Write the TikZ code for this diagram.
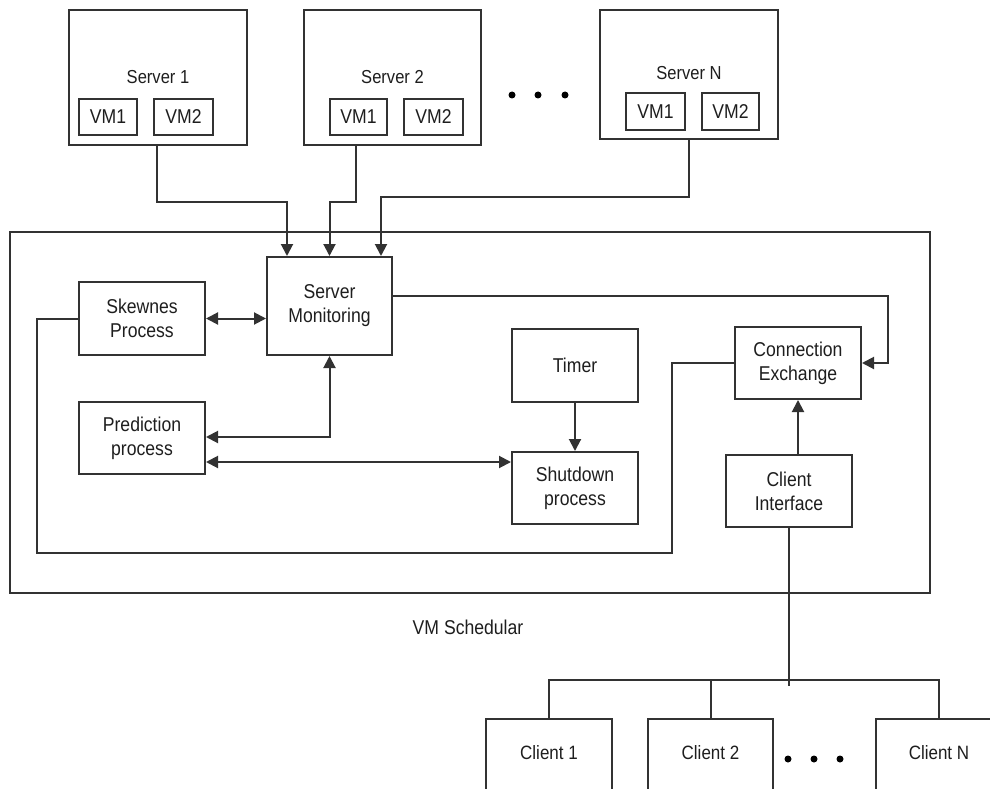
\documentclass[tikz,border=0pt]{standalone}
\usepackage{fontspec}
\setmainfont{Liberation Sans}[FakeStretch=0.88]
\usetikzlibrary{arrows.meta}
\definecolor{ln}{RGB}{50,50,50}
\definecolor{tx}{RGB}{30,30,30}
\newcommand{\bigtxt}{\fontsize{20}{24}\selectfont}
\newcommand{\srvtxt}{\fontsize{18.8}{24}\selectfont}
\newcommand{\clitxt}{\fontsize{19.3}{24}\selectfont}
\tikzset{
  box/.style={draw=ln, line width=2pt, inner sep=0pt, text=tx, align=center, font=\bigtxt},
  vmbox/.style={box, minimum height=36pt},
  proc/.style={box, minimum width=126pt, minimum height=72pt},
  conn/.style={draw=ln, line width=2pt},
  arr/.style={conn, -{Triangle[length=12pt,width=12pt]}},
  darr/.style={conn, {Triangle[length=12pt,width=12pt]}-{Triangle[length=12pt,width=12pt]}},
  dot/.style={fill=black, circle, inner sep=0pt, minimum size=7pt},
  lbl/.style={text=tx, font=\srvtxt, inner sep=0pt}
}
\begin{document}
\begin{tikzpicture}[x=1pt,y=-1pt]
\useasboundingbox (0,0) rectangle (990,789);
\clip (0,0) rectangle (990,789);
\fill[white] (0,0) rectangle (990,789);

% servers
\node[box, minimum width=178pt, minimum height=135pt,
      label={[lbl, anchor=base, yshift=-75pt]north:Server 1}] (S1) at (158,77.5) {};
\node[box, minimum width=177pt, minimum height=135pt,
      label={[lbl, anchor=base, yshift=-75pt]north:Server 2}] (S2) at (392.5,77.5) {};
\node[box, minimum width=178pt, minimum height=129pt,
      label={[lbl, anchor=base, yshift=-71pt]north:Server N}] (SN) at (689,74.5) {};

\node[vmbox, minimum width=58pt] (s1vm1) at (108,117) {VM1};
\node[vmbox, minimum width=59pt] (s1vm2) at (183.5,117) {VM2};
\node[vmbox, minimum width=57pt] (s2vm1) at (358.5,117) {VM1};
\node[vmbox, minimum width=59pt] (s2vm2) at (433.5,117) {VM2};
\node[vmbox, minimum width=59pt, minimum height=37pt] (snvm1) at (655.5,111.5) {VM1};
\node[vmbox, minimum width=57pt, minimum height=37pt] (snvm2) at (730.5,111.5) {VM2};

\node[dot] (d1) at (512,95) {};
\node[dot] (d2) at (538,95) {};
\node[dot] (d3) at (565,95) {};

% scheduler frame
\node[box, minimum width=920pt, minimum height=361pt] (sched) at (470,412.5) {};
\node[lbl, font=\bigtxt] (schedlbl) at (468,627) {VM Schedular};

% processes
\node[box, minimum width=125pt, minimum height=98pt] (SM) at (329.5,306) {Server\\Monitoring};
\node[proc, minimum height=73pt] (Skew) at (142,318.5) {Skewnes\\Process};
\node[proc] (Pred) at (142,438) {Prediction\\process};
\node[proc, minimum height=73pt] (Timer) at (575,365.5) {Timer};
\node[proc] (Shut) at (575,488) {Shutdown\\process};
\node[proc] (CE) at (798,363) {Connection\\Exchange};
\node[proc] (CI) at (789,491) {Client\\Interface};

% clients
\node[box, minimum width=126pt, minimum height=120pt,
      label={[lbl, font=\clitxt, anchor=center, yshift=-35pt]north:Client 1}] (C1) at (549,779) {};
\node[box, minimum width=125pt, minimum height=120pt,
      label={[lbl, font=\clitxt, anchor=center, yshift=-35pt]north:Client 2}] (C2) at (710.5,779) {};
\node[box, minimum width=126pt, minimum height=120pt,
      label={[lbl, font=\clitxt, anchor=center, yshift=-35pt]north:Client N}] (CN) at (939,779) {};

\node[dot] (e1) at (788,759) {};
\node[dot] (e2) at (814,759) {};
\node[dot] (e3) at (840,759) {};

% server connectors
\draw[arr] ([xshift=-1pt]S1.south) -- ++(0,56) -| ([xshift=-42.5pt]SM.north);
\draw[arr] ([xshift=-36.5pt]S2.south) -- ++(0,56) -| (SM.north);
\draw[arr] (SN.south) -- ++(0,57) -| ([xshift=51.5pt]SM.north);

% internal connectors
\draw[darr] (Skew.east) -- (Skew.east -| SM.west);
\draw[darr] (SM.south) |- ([yshift=1pt]Pred.east);
\draw[darr] ([yshift=-24pt]Pred.east) -- ([yshift=-24pt]Pred.east -| Shut.west);
\draw[arr] (Timer.south) -- (Shut.north);
\draw[arr] ([yshift=10pt]SM.east) -- ++(495,0) |- (CE.east);
\draw[conn] (Skew.west) -- ++(-41,0) -- ++(0,234) -| ([xshift=-62pt]CE.west) -- (CE.west);
\draw[arr] (CE.south |- CI.north) -- (CE.south);

% client bus
\draw[conn] (CI.south) -- ++(0,158);
\draw[conn] (C1.north) -- ++(0,-38) -| (CN.north);
\draw[conn] (C2.north) -- ++(0,-38);
\end{tikzpicture}
\end{document}
